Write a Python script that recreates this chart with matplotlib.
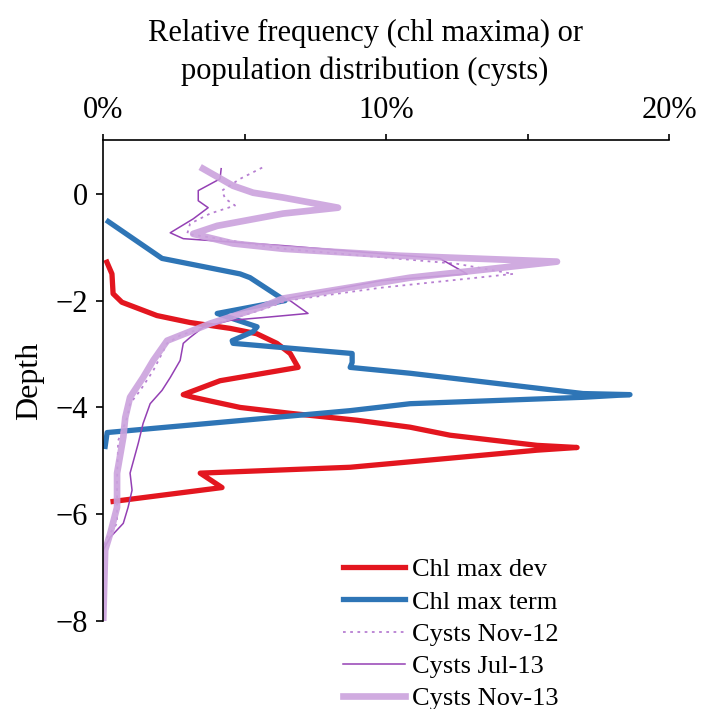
import matplotlib.pyplot as plt
import matplotlib.ticker as mticker

# Chlorophyll maxima (relative frequency, %) against depth
chl_dev_depth = [-1.28, -1.50, -1.87, -2.03, -2.28, -2.41, -2.52, -2.62, -2.80, -2.99,
                 -3.25, -3.50, -3.76, -3.81, -4.00, -4.11, -4.24, -4.37, -4.52, -4.71,
                 -4.75, -4.80, -4.95, -5.12, -5.23, -5.50, -5.76]
chl_dev_pct = [0.13, 0.31, 0.35, 0.66, 1.90, 3.07, 4.49, 5.43, 6.14, 6.61,
               6.89, 4.13, 2.83, 3.18, 4.84, 6.61, 8.98, 10.85, 12.26, 15.34,
               16.75, 15.34, 12.26, 8.73, 3.43, 4.20, 0.35]

chl_term_depth = [-0.52, -1.21, -1.50, -1.57, -2.00, -2.24, -2.49, -2.58, -2.75, -2.80,
                  -2.99, -3.16, -3.25, -3.36, -3.74, -3.76, -3.81, -3.93, -4.06, -4.47,
                  -4.73]
chl_term_pct = [0.18, 2.08, 4.84, 5.19, 6.43, 4.03, 5.44, 5.30, 4.56, 4.59,
                8.80, 8.80, 8.73, 10.85, 16.96, 18.62, 16.96, 10.85, 8.73, 0.14,
                0.07]

# Cyst population distribution (%) against depth
nov12_depth = [0.49, 0.28, 0.06, -0.09, -0.22, -0.37, -0.56, -0.75, -1.03, -1.31,
               -1.50, -1.76, -2.00, -2.15, -2.41, -2.65, -2.80, -3.31, -3.68, -3.93,
               -4.19, -4.62, -5.36, -6.17, -6.43, -6.67, -8.00]
nov12_pct = [5.62, 4.84, 4.20, 4.31, 4.66, 3.78, 3.07, 2.97, 6.36, 12.50,
             14.49, 9.79, 6.50, 5.72, 4.13, 2.72, 2.26, 1.77, 1.31, 0.95,
             0.85, 0.53, 0.49, 0.49, 0.14, 0.00, 0.00]

jul13_depth = [0.47, 0.28, 0.06, -0.13, -0.26, -0.47, -0.73, -0.84, -0.97, -1.21,
               -1.50, -1.63, -1.96, -2.24, -2.31, -2.37, -2.50, -2.69, -2.80, -3.12,
               -3.44, -3.68, -3.93, -4.30, -4.67, -5.23, -5.55, -5.87, -6.17, -6.43,
               -6.67, -8.00]
jul13_pct = [4.17, 4.13, 3.36, 3.36, 3.71, 3.18, 2.37, 2.83, 6.36, 11.90,
             12.86, 9.79, 6.50, 7.24, 5.80, 4.49, 3.53, 3.07, 2.83, 2.72,
             2.37, 2.08, 1.66, 1.41, 1.24, 0.95, 1.02, 0.88, 0.71, 0.25,
             0.00, 0.00]

nov13_depth = [0.47, 0.15, 0.02, -0.07, -0.26, -0.37, -0.60, -0.75, -0.93, -1.03,
               -1.16, -1.27, -1.57, -1.96, -2.11, -2.43, -2.75, -3.12, -3.44, -3.81,
               -4.19, -4.56, -5.23, -5.87, -6.36, -6.67, -8.00]
nov13_pct = [3.53, 4.59, 5.30, 6.36, 8.30, 6.36, 4.03, 3.18, 4.59, 6.36,
             10.49, 16.04, 10.85, 6.36, 5.65, 3.78, 2.26, 1.77, 1.41, 0.95,
             0.78, 0.71, 0.49, 0.49, 0.25, 0.07, 0.00]

x_ticks = [0, 5, 10, 15, 20]
x_tick_labels = ["0%", "", "10%", "", "20%"]
y_ticks = [0, -2, -4, -6, -8]

plt.rcParams["font.family"] = ["Liberation Serif", "DejaVu Serif"]

fig = plt.figure(figsize=(7.02, 7.09), dpi=100)
ax = fig.add_axes([0.147, 0.124, 0.806, 0.678])

ax.plot(chl_dev_pct, chl_dev_depth, color="#e3161f", lw=3.8, label="Chl max dev")
ax.plot(chl_term_pct, chl_term_depth, color="#2e75b6", lw=3.8, label="Chl max term")
ax.plot(nov12_pct, nov12_depth, color="#b77fd2", lw=1.3, ls=(0, (1.5, 2.5)),
        label="Cysts Nov-12")
ax.plot(jul13_pct, jul13_depth, color="#9440b4", lw=1.1, label="Cysts Jul-13")
ax.plot(nov13_pct, nov13_depth, color="#cba2dd", lw=4.8, alpha=0.9, label="Cysts Nov-13")

ax.set_xlim(0, 20)
ax.set_ylim(-8, 1)

# x axis on top, only left and top spines
ax.xaxis.tick_top()
ax.spines["bottom"].set_visible(False)
ax.spines["right"].set_visible(False)
ax.spines["top"].set_linewidth(1.2)
ax.spines["left"].set_linewidth(1.2)

ax.set_xticks(x_ticks)
ax.xaxis.set_major_formatter(mticker.FixedFormatter(x_tick_labels))
ax.set_yticks(y_ticks)
ax.tick_params(axis="x", direction="out", length=4, width=1.2, pad=7, labelsize=22)
ax.tick_params(axis="y", direction="out", length=5, width=1.2, pad=6, labelsize=22)

ax.set_ylabel("Depth", fontsize=23, labelpad=8)

fig.text(0.52, 0.926, "Relative frequency (chl maxima) or\npopulation distribution (cysts)",
         ha="center", va="center", fontsize=22, linespacing=1.36)

fig.legend(loc="upper left", bbox_to_anchor=(0.488, 0.213), frameon=False,
           fontsize=19, handlelength=2.35, handletextpad=0.27, labelspacing=0.33,
           borderpad=0, borderaxespad=0)

fig.savefig("out.png", dpi=100)
